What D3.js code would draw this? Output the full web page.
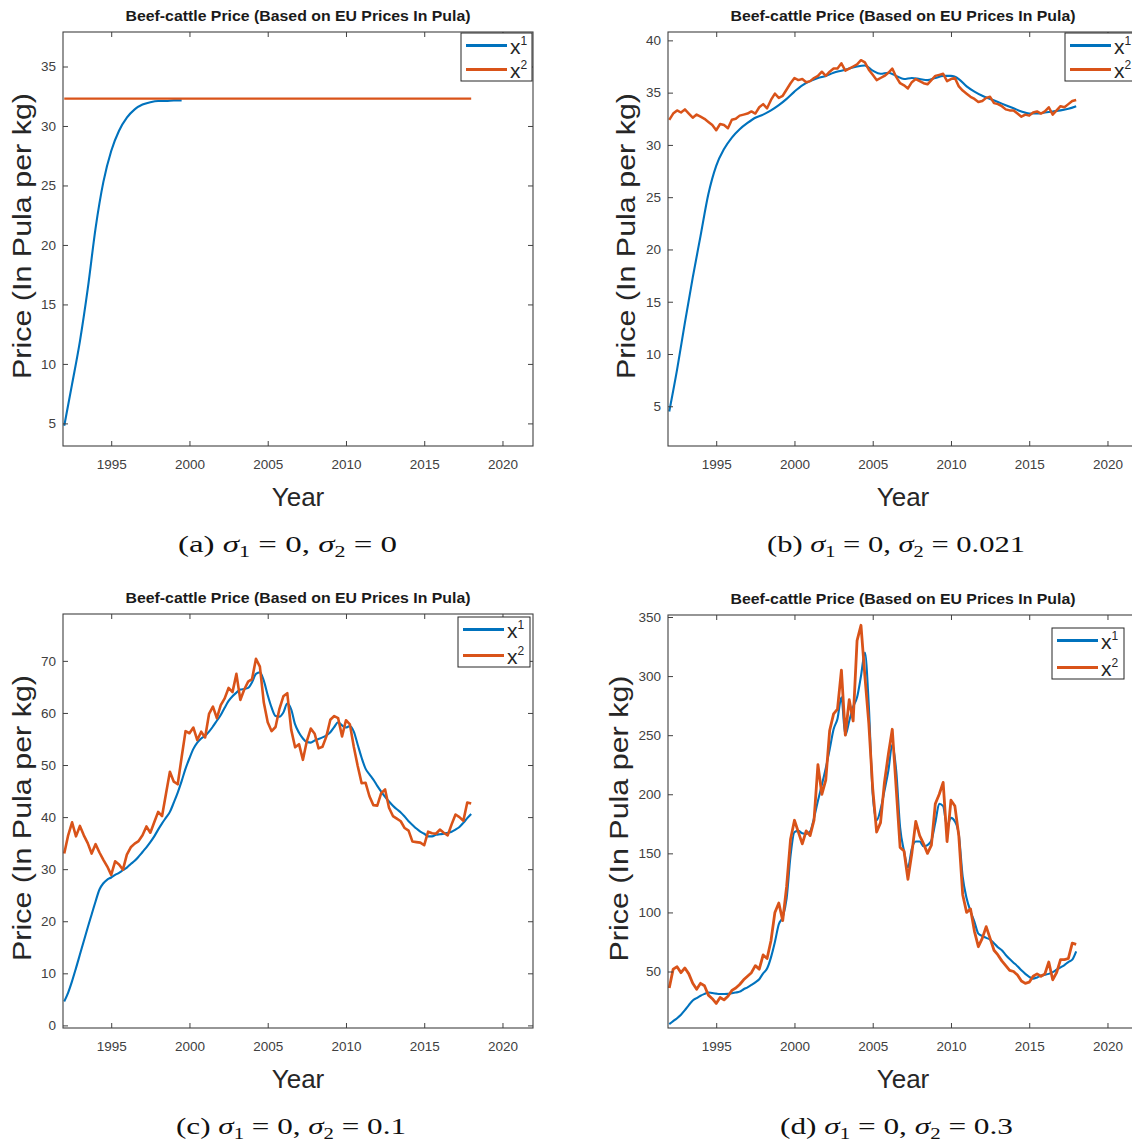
<!DOCTYPE html>
<html>
<head>
<meta charset="utf-8">
<script src="https://cdn.jsdelivr.net/npm/d3@7"></script>
<style>
body { margin: 0; background: #fff; }
svg { display: block; }
</style>
</head>
<body>
<svg id="fig" width="1132" height="1144"></svg>
<script>
// time grids (years)
var quarterYears = [
	1992, 1992.25, 1992.5, 1992.75, 1993, 1993.25, 1993.5, 1993.75, 1994, 1994.25,
	1994.5, 1994.75, 1995, 1995.25, 1995.5, 1995.75, 1996, 1996.25, 1996.5, 1996.75,
	1997, 1997.25, 1997.5, 1997.75, 1998, 1998.25, 1998.5, 1998.75, 1999, 1999.25,
	1999.5, 1999.75, 2000, 2000.25, 2000.5, 2000.75, 2001, 2001.25, 2001.5, 2001.75,
	2002, 2002.25, 2002.5, 2002.75, 2003, 2003.25, 2003.5, 2003.75, 2004, 2004.25,
	2004.5, 2004.75, 2005, 2005.25, 2005.5, 2005.75, 2006, 2006.25, 2006.5, 2006.75,
	2007, 2007.25, 2007.5, 2007.75, 2008, 2008.25, 2008.5, 2008.75, 2009, 2009.25,
	2009.5, 2009.75, 2010, 2010.25, 2010.5, 2010.75, 2011, 2011.25, 2011.5, 2011.75,
	2012, 2012.25, 2012.5, 2012.75, 2013, 2013.25, 2013.5, 2013.75, 2014, 2014.25,
	2014.5, 2014.75, 2015, 2015.25, 2015.5, 2015.75, 2016, 2016.25, 2016.5, 2016.75,
	2017, 2017.25, 2017.5, 2017.75, 2018];
var halfYears = [
	1992, 1992.5, 1993, 1993.5, 1994, 1994.5, 1995, 1995.5, 1996, 1996.5,
	1997, 1997.5, 1998, 1998.5, 1999, 1999.5, 2000, 2000.5, 2001, 2001.5,
	2002, 2002.5, 2003, 2003.5, 2004, 2004.5, 2005, 2005.5, 2006, 2006.5,
	2007, 2007.5, 2008, 2008.5, 2009, 2009.5, 2010, 2010.5, 2011, 2011.5,
	2012, 2012.5, 2013, 2013.5, 2014, 2014.5, 2015, 2015.5, 2016, 2016.5,
	2017, 2017.5, 2018];

// (a) sigma2 = 0
var aBlueValues = [4.8, 8.3, 11.9, 16.3, 21.4, 25.3, 27.9, 29.6, 30.7, 31.4, 31.8, 32.0, 32.1, 32.1, 32.15, 32.15];
var aOrangeYears = [1992, 2018];
var aOrangeValues = [32.3, 32.3];

// (b) sigma2 = 0.021
var bBlueValues = [
	4.5, 8.5, 13.0, 17.3, 21.3, 25.3, 28.0, 29.6, 30.7, 31.5,
	32.1, 32.6, 32.9, 33.3, 33.8, 34.4, 35.1, 35.7, 36.1, 36.4,
	36.6, 36.9, 37.1, 37.3, 37.5, 37.6, 37.1, 36.8, 36.9, 36.6,
	36.3, 36.4, 36.3, 36.2, 36.4, 36.6, 36.6, 36.3, 35.6, 35.1,
	34.7, 34.4, 34.1, 33.8, 33.5, 33.2, 33.0, 33.0, 33.1, 33.2,
	33.3, 33.45, 33.7];
var bOrangeValues = [
	32.4, 33.0, 33.3, 33.1, 33.4, 33.0, 32.6, 32.9, 32.7, 32.5,
	32.2, 31.9, 31.4, 32.0, 31.9, 31.6, 32.4, 32.5, 32.8, 32.9,
	33.0, 33.2, 33.0, 33.6, 33.9, 33.5, 34.3, 34.9, 34.5, 34.7,
	35.3, 35.9, 36.4, 36.2, 36.3, 36.0, 36.1, 36.4, 36.6, 37.0,
	36.6, 37.0, 37.3, 37.3, 37.8, 37.1, 37.3, 37.5, 37.7, 38.1,
	37.9, 37.2, 36.7, 36.2, 36.4, 36.6, 36.9, 37.3, 36.5, 35.9,
	35.7, 35.4, 36.0, 36.3, 36.1, 35.9, 35.8, 36.2, 36.6, 36.7,
	36.8, 36.1, 36.3, 36.4, 35.6, 35.2, 34.9, 34.6, 34.4, 34.1,
	34.2, 34.5, 34.6, 34.0, 33.9, 33.7, 33.4, 33.3, 33.3, 33.0,
	32.7, 32.9, 32.8, 33.1, 33.2, 33.0, 33.2, 33.6, 32.9, 33.3,
	33.7, 33.6, 33.9, 34.2, 34.3];

// (c) sigma2 = 0.1
var cBlueValues = [
	4.6, 6.3, 8.5, 11.0, 13.6, 16.2, 18.8, 21.3, 23.8, 26.1,
	27.3, 28.0, 28.4, 28.9, 29.3, 29.8, 30.3, 31.0, 31.6, 32.4,
	33.3, 34.2, 35.2, 36.3, 37.6, 38.8, 39.9, 41.0, 42.8, 44.7,
	46.9, 49.3, 51.3, 53.1, 54.3, 55.1, 55.6, 56.4, 57.4, 58.5,
	59.6, 61.0, 62.3, 63.2, 63.9, 64.5, 64.6, 64.8, 65.9, 67.5,
	67.8, 66.2, 63.4, 61.0, 59.4, 59.3, 60.1, 61.8, 60.7, 57.8,
	56.2, 55.1, 54.4, 54.3, 54.7, 55.0, 55.3, 55.7, 56.3, 57.3,
	58.2, 57.6, 57.2, 57.5, 56.4, 53.9, 51.4, 49.3, 48.2, 47.2,
	46.0, 44.9, 43.9, 43.0, 42.2, 41.5, 40.9, 40.1, 39.2, 38.5,
	37.8, 37.2, 36.8, 36.3, 36.3, 36.6, 36.7, 36.8, 37.0, 37.2,
	37.6, 38.1, 38.9, 39.8, 40.6];
var cOrangeValues = [
	33.0, 36.5, 39.0, 36.3, 38.3, 36.5, 35.0, 33.0, 34.8, 33.2,
	31.8, 30.5, 28.9, 31.5, 30.9, 29.9, 32.8, 34.2, 34.9, 35.4,
	36.5, 38.2, 37.0, 39.0, 41.0, 40.2, 44.5, 48.7, 46.8, 46.3,
	51.5, 56.5, 56.1, 57.2, 54.8, 56.4, 55.3, 59.8, 61.2, 59.0,
	61.5, 62.8, 64.8, 64.0, 67.5, 62.5, 64.5, 66.0, 66.5, 70.4,
	68.9, 62.0, 58.2, 56.5, 57.3, 60.8, 63.2, 63.8, 56.8, 53.4,
	54.0, 51.0, 54.6, 57.0, 56.0, 53.2, 53.5, 55.5, 58.7, 59.4,
	59.0, 55.5, 58.6, 57.8, 53.5, 49.8, 46.5, 46.6, 44.0, 42.3,
	42.2, 44.6, 45.3, 41.8, 40.2, 39.7, 39.2, 37.9, 37.4, 35.3,
	35.2, 35.1, 34.6, 37.2, 36.9, 36.8, 37.6, 37.0, 36.5, 38.6,
	40.5, 40.0, 39.3, 42.8, 42.6];

// (d) sigma2 = 0.3
var dBlueValues = [
	5.5, 8, 10.5, 13.5, 17.3, 21.5, 25.5, 27.5, 29.5, 31,
	32.3, 31.8, 31.3, 31, 31, 31.1, 31.6, 32.2, 33, 35,
	36.6, 38.6, 40.8, 43.5, 48.5, 52.5, 62, 75, 90, 96,
	112, 148, 168, 169, 167, 166.5, 168.5, 180, 194.5, 208,
	222, 238, 255, 264, 282, 250, 262, 274, 282, 300,
	320, 275, 200, 178, 187, 203, 220, 242, 220, 172,
	152, 138, 154, 160, 160, 156, 157, 161, 176, 192,
	190, 173, 180, 177, 166, 130, 112, 101, 92, 82,
	80, 78.5, 77, 74, 70.5, 68, 64, 60.5, 57.5, 54.5,
	51, 48, 45.5, 44, 45, 46.5, 47.2, 48, 49.5, 51.5,
	53.5, 55.5, 58, 60, 67];
var dOrangeValues = [
	36, 52, 54, 49, 53, 48, 40, 35, 40, 38,
	30, 27, 23, 28, 26, 29, 34, 36, 39, 43,
	46, 49, 55, 52, 64, 61, 76, 100, 108, 93,
	122, 162, 178, 168, 158, 169, 165, 178, 225, 200,
	212, 254, 268, 272, 305, 250, 280, 262, 330, 343,
	300, 260, 205, 168, 176, 210, 234, 255, 205, 155,
	152, 128, 150, 177, 165, 158, 150, 157, 192, 200,
	210, 160, 195, 190, 165, 115, 100, 103, 84, 71,
	78, 88, 78, 68, 64, 59, 55, 51, 50, 47,
	42, 40, 41, 46, 48, 46, 48, 58, 43, 49,
	60, 60, 61, 74, 73];

var xTicks = [1995, 2000, 2005, 2010, 2015, 2020];
var aYTicks = [5, 10, 15, 20, 25, 30, 35];
var bYTicks = [5, 10, 15, 20, 25, 30, 35, 40];
var cYTicks = [0, 10, 20, 30, 40, 50, 60, 70];
var dYTicks = [50, 100, 150, 200, 250, 300, 350];
var legendLabels = ["1", "2"];
var captionSigma2 = ["0", "0.021", "0.1", "0.3"];
var titleText = "Beef-cattle Price (Based on EU Prices In Pula)";

var blue = "#0072BD";
var orange = "#D95319";
var axisColor = "#404040";
var xDomain = [1991.92, 2021.95];

var panels = [
	{letter: "a", left: 63, top: 32, width: 470, height: 414, yDomain: [3.1, 37.9], yTicks: aYTicks,
		series: [
			{years: halfYears.slice(0, aBlueValues.length), values: aBlueValues, color: blue, smooth: true, w: 2.1},
			{years: aOrangeYears, values: aOrangeValues, color: orange, smooth: false, w: 2.3}],
		legend: {left: 461, top: 33, w: 71, h: 48}, ylabelX: 22, capX: 287.5, capY: 552, capLen: 219},
	{letter: "b", left: 668, top: 32, width: 470, height: 414, yDomain: [1.2, 40.8], yTicks: bYTicks,
		series: [
			{years: halfYears, values: bBlueValues, color: blue, smooth: true, w: 2.1},
			{years: quarterYears, values: bOrangeValues, color: orange, smooth: false, w: 2.5}],
		legend: {left: 1065, top: 33, w: 72, h: 48}, ylabelX: 626, capX: 896, capY: 552, capLen: 258},
	{letter: "c", left: 63, top: 614, width: 470, height: 414, yDomain: [-0.5, 79], yTicks: cYTicks,
		series: [
			{years: quarterYears, values: cBlueValues, color: blue, smooth: true, w: 2.1},
			{years: quarterYears, values: cOrangeValues, color: orange, smooth: false, w: 2.6}],
		legend: {left: 458, top: 617, w: 72, h: 50}, ylabelX: 22, capX: 291, capY: 1134, capLen: 230},
	{letter: "d", left: 668, top: 615, width: 470, height: 413, yDomain: [2.2, 351.7], yTicks: dYTicks,
		series: [
			{years: quarterYears, values: dBlueValues, color: blue, smooth: true, w: 2.1},
			{years: quarterYears, values: dOrangeValues, color: orange, smooth: false, w: 2.8}],
		legend: {left: 1052, top: 628, w: 72, h: 51}, ylabelX: 619, capX: 896.5, capY: 1134, capLen: 233}
];

var svg = d3.select("#fig");

function styleAxis(sel) {
	sel.select(".domain").remove();
	sel.selectAll(".tick line").attr("stroke", axisColor);
	sel.selectAll(".tick text")
		.attr("fill", axisColor)
		.style("font-family", "'Liberation Sans', Arial, sans-serif")
		.style("font-size", "13.5px");
}

function drawPanel(p, idx) {
	var g = svg.append("g").attr("class", "panel-" + p.letter);
	var x = d3.scaleLinear().domain(xDomain).range([p.left, p.left + p.width]);
	var y = d3.scaleLinear().domain(p.yDomain).range([p.top + p.height, p.top]);

	// data lines
	p.series.forEach(function (s) {
		var pts = s.years.map(function (yr, i) { return [yr, s.values[i]]; });
		var line = d3.line()
			.x(d => x(d[0]))
			.y(d => y(d[1]))
			.curve(s.smooth ? d3.curveMonotoneX : d3.curveLinear);
		g.append("path")
			.datum(pts)
			.attr("fill", "none")
			.attr("stroke", s.color)
			.attr("stroke-width", s.w)
			.attr("stroke-linejoin", "round")
			.attr("d", line);
	});

	// axes, ticks pointing inward on all four sides
	g.append("g")
		.attr("transform", "translate(0," + (p.top + p.height) + ")")
		.call(d3.axisBottom(x).tickValues(xTicks).tickFormat(d3.format("d")).tickSizeInner(-5).tickSizeOuter(0).tickPadding(13))
		.call(styleAxis);
	g.append("g")
		.attr("transform", "translate(0," + p.top + ")")
		.call(d3.axisTop(x).tickValues(xTicks).tickFormat("").tickSizeInner(-5).tickSizeOuter(0))
		.call(styleAxis);
	g.append("g")
		.attr("transform", "translate(" + p.left + ",0)")
		.call(d3.axisLeft(y).tickValues(p.yTicks).tickFormat(d3.format("d")).tickSizeInner(-5).tickSizeOuter(0).tickPadding(7))
		.call(styleAxis);
	g.append("g")
		.attr("transform", "translate(" + (p.left + p.width) + ",0)")
		.call(d3.axisRight(y).tickValues(p.yTicks).tickFormat("").tickSizeInner(-5).tickSizeOuter(0))
		.call(styleAxis);

	g.append("rect")
		.attr("x", p.left)
		.attr("y", p.top)
		.attr("width", p.width)
		.attr("height", p.height)
		.attr("fill", "none")
		.attr("stroke", axisColor)
		.attr("stroke-width", 1.1);

	// title
	g.append("text")
		.attr("x", p.left + p.width / 2)
		.attr("y", p.top - 11)
		.attr("text-anchor", "middle")
		.attr("textLength", 345)
		.attr("lengthAdjust", "spacingAndGlyphs")
		.style("font-family", "'Liberation Sans', Arial, sans-serif")
		.style("font-weight", "bold")
		.style("font-size", "15px")
		.attr("fill", "#1a1a1a")
		.text(titleText);

	// axis labels
	g.append("text")
		.attr("x", p.left + p.width / 2)
		.attr("y", p.top + p.height + 60)
		.attr("text-anchor", "middle")
		.style("font-family", "'Liberation Sans', Arial, sans-serif")
		.style("font-size", "26px")
		.attr("fill", "#262626")
		.text("Year");

	g.append("text")
		.attr("transform", "translate(" + (p.ylabelX + 9) + "," + (p.top + p.height / 2 - 3) + ") rotate(-90)")
		.attr("text-anchor", "middle")
		.attr("textLength", 286)
		.attr("lengthAdjust", "spacingAndGlyphs")
		.style("font-family", "'Liberation Sans', Arial, sans-serif")
		.style("font-size", "26px")
		.attr("fill", "#262626")
		.text("Price (In Pula per kg)");

	// legend
	var L = p.legend;
	var lg = g.append("g");
	lg.append("rect")
		.attr("x", L.left).attr("y", L.top)
		.attr("width", L.w).attr("height", L.h)
		.attr("fill", "#fff")
		.attr("stroke", "#262626")
		.attr("stroke-width", 1);
	p.series.forEach(function (s, i) {
		var ly = L.top + (i === 0 ? 12.5 : L.h - 11.5);
		lg.append("line")
			.attr("x1", L.left + 5).attr("x2", L.left + 46)
			.attr("y1", ly).attr("y2", ly)
			.attr("stroke", s.color)
			.attr("stroke-width", 3.2);
		var t = lg.append("text")
			.attr("x", L.left + 49)
			.attr("y", ly + 8)
			.style("font-family", "'Liberation Sans', Arial, sans-serif")
			.style("font-size", "21px")
			.attr("fill", "#262626");
		t.append("tspan").text("x");
		t.append("tspan").attr("dy", -9).style("font-size", "12px").text(legendLabels[i]);
	});

	// caption
	var cap = svg.append("text")
		.attr("x", p.capX)
		.attr("y", p.capY)
		.attr("text-anchor", "middle")
		.attr("textLength", p.capLen)
		.attr("lengthAdjust", "spacingAndGlyphs")
		.style("font-family", "'Liberation Serif', 'DejaVu Serif', serif")
		.style("font-size", "24px")
		.attr("fill", "#111");
	cap.append("tspan").text("(" + p.letter + ")\u00a0");
	cap.append("tspan").style("font-style", "italic").text("\u03c3");
	cap.append("tspan").attr("dy", 5).style("font-size", "16px").text("1");
	cap.append("tspan").attr("dy", -5).text("\u00a0=\u00a00,\u00a0");
	cap.append("tspan").style("font-style", "italic").text("\u03c3");
	cap.append("tspan").attr("dy", 5).style("font-size", "16px").text("2");
	cap.append("tspan").attr("dy", -5).text("\u00a0=\u00a0" + captionSigma2[idx]);
}

panels.forEach(drawPanel);
</script>
</body>
</html>
